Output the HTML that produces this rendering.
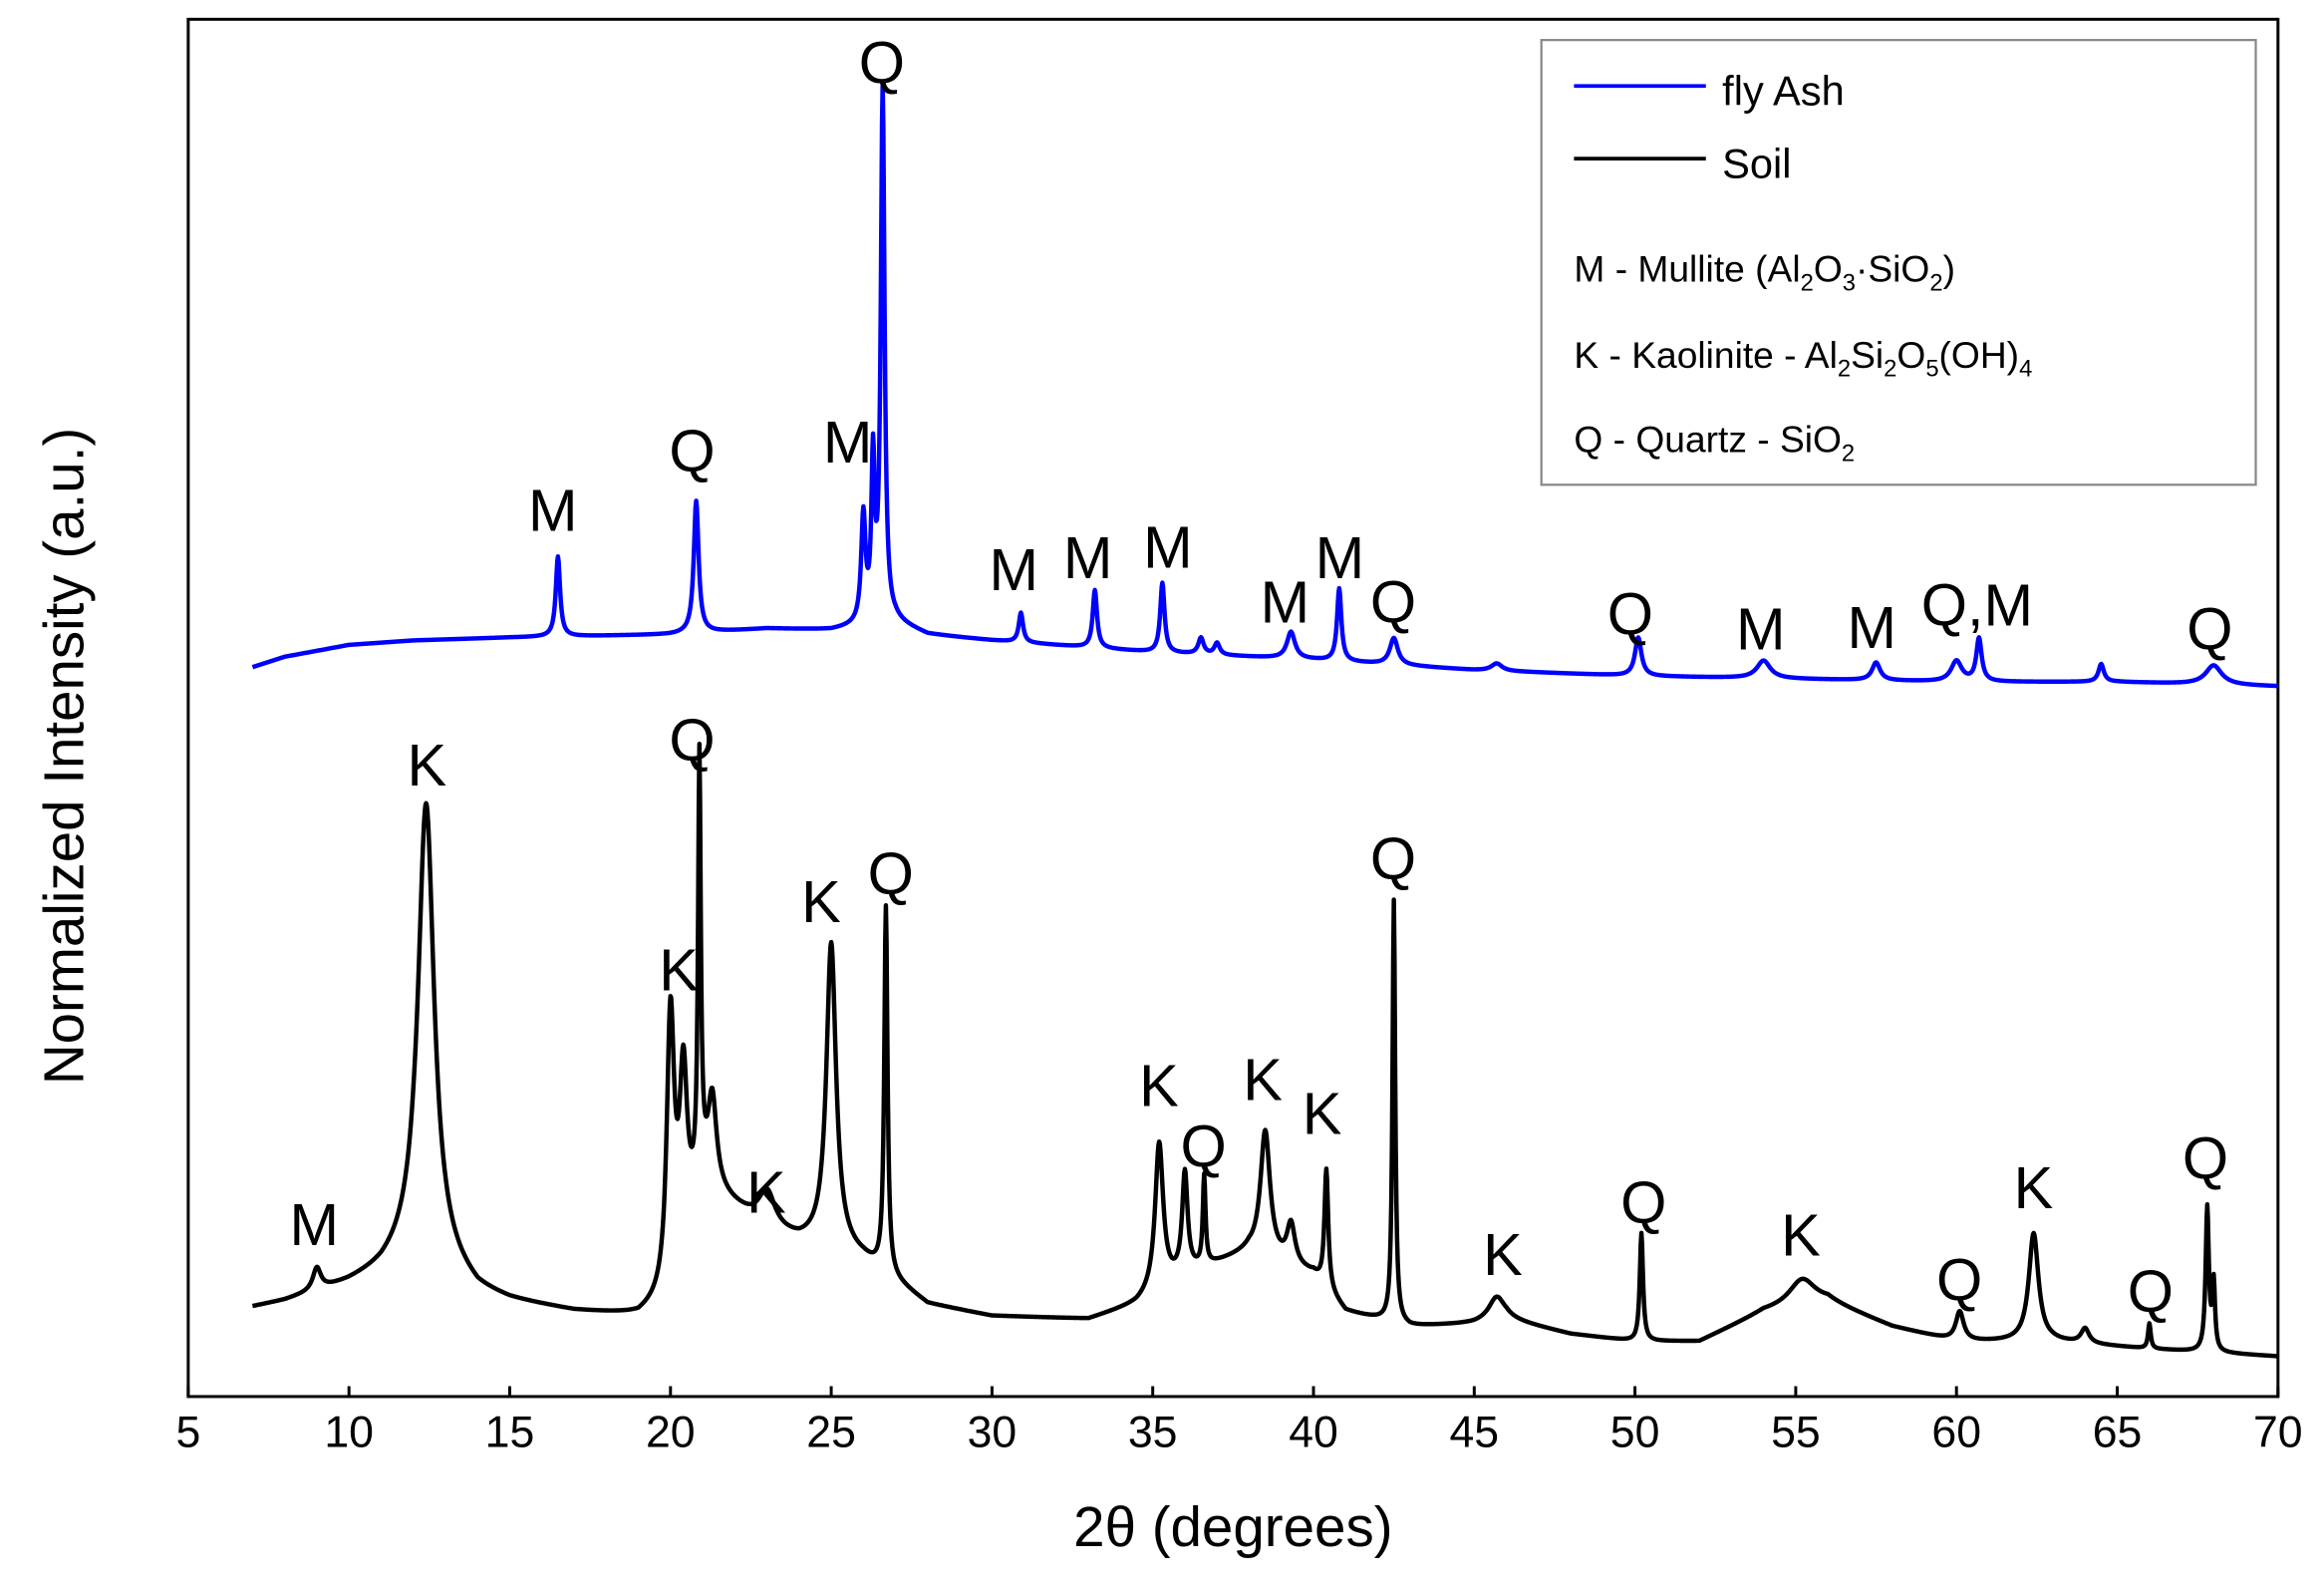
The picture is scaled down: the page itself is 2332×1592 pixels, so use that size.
<!DOCTYPE html>
<html><head><meta charset="utf-8"><style>
html,body{margin:0;padding:0;background:#fff;}
svg{display:block;font-family:"Liberation Sans",Arial,sans-serif;}
</style></head><body>
<svg id="chart" width="2332" height="1592" viewBox="0 0 2332 1592" xmlns="http://www.w3.org/2000/svg">
<g id="root" transform="scale(1.4872)">
<rect x="127" y="13" width="1410" height="929" fill="none" stroke="#000" stroke-width="2"/>
<g id="xticks"></g>
<text x="832" y="1043" font-size="38" text-anchor="middle">2θ (degrees)</text>
<text transform="translate(56,510) rotate(-90)" font-size="38" text-anchor="middle">Normalized Intensity (a.u.)</text>
<g id="series"></g>
<g id="labels"></g>
<g>
<rect x="1040" y="27" width="482" height="300" fill="#fff" stroke="#888" stroke-width="1.5"/>
<line x1="1062" y1="58" x2="1151" y2="58" stroke="#0000ff" stroke-width="2.5"/>
<text x="1162" y="71" font-size="28">fly Ash</text>
<line x1="1062" y1="107" x2="1151" y2="107" stroke="#000" stroke-width="2.5"/>
<text x="1162" y="120" font-size="28">Soil</text>
<text x="1062" y="190" font-size="25">M -  Mullite (Al<tspan font-size="16" dy="6">2</tspan><tspan dy="-6">O</tspan><tspan font-size="16" dy="6">3</tspan><tspan dy="-6">·SiO</tspan><tspan font-size="16" dy="6">2</tspan><tspan dy="-6">)</tspan></text>
<text x="1062" y="248" font-size="25">K -  Kaolinite - Al<tspan font-size="16" dy="6">2</tspan><tspan dy="-6">Si</tspan><tspan font-size="16" dy="6">2</tspan><tspan dy="-6">O</tspan><tspan font-size="16" dy="6">5</tspan><tspan dy="-6">(OH)</tspan><tspan font-size="16" dy="6">4</tspan></text>
<text x="1062" y="305" font-size="25">Q - Quartz - SiO<tspan font-size="16" dy="6">2</tspan></text>
</g>
</g>
</svg>
<script>
// x ticks
var xTicks = [5,10,15,20,25,30,35,40,45,50,55,60,65,70];
// fly ash baseline (2θ, intensity a.u.)
var flyBaseX = [7,8,10,12,15,20,23,25,27,28,30,35,40,45,50,55,60,65,70];
var flyBaseI = [492,499,507,510,512,514,518,517,522,514,510,502,497,490,486,484,482,482,479];
var flyPeakX = [16.5,20.8,26.0,26.3,26.6,30.9,33.2,35.3,36.5,37.0,39.3,40.8,42.5,45.7,50.1,54.0,57.5,60.0,60.7,64.5,68.0];
var flyPeakH = [54,89,72,106,359,20,39,47,11,8,18,49,18,5,26,12,12,14,29,12,13];
var flyPeakW = [0.08,0.09,0.08,0.06,0.07,0.08,0.08,0.08,0.1,0.1,0.15,0.08,0.15,0.2,0.12,0.25,0.15,0.2,0.1,0.1,0.3];
// soil baseline
var soilBaseX = [7,8,9,10,11,12,13,14,15,17,19,19.8,21,22,23,24,25,26,27,28,30,33,34.5,36,38,40,41,43,45,46,48,50,52,54,56,58,60,63,66,70];
var soilBaseI = [60,64,70,76,84,97,87,70,64,57,54,62,142,127,112,104,102,92,77,62,54,52,62,82,97,82,57,47,49,52,42,37,37,57,64,47,37,37,32,27];
var soilPeakX = [9.0,12.4,20.0,20.4,20.9,21.3,23.0,25.0,26.7,35.2,36.0,36.6,38.5,39.3,40.4,42.5,45.7,50.2,55.2,60.1,62.4,64.0,66.0,67.8,68.0];
var soilPeakH = [15,307,180,110,283,60,25,203,247,99,67,60,85,27,80,285,16,73,18,20,73,10,17,97,45];
var soilPeakW = [0.15,0.3,0.14,0.14,0.05,0.16,0.3,0.18,0.06,0.15,0.1,0.05,0.18,0.15,0.07,0.05,0.3,0.06,0.5,0.15,0.18,0.15,0.05,0.06,0.05];

var NS='http://www.w3.org/2000/svg';
function xs(v){return 127+(v-5)*(1410/65);}
function ys(v){return 942-v;}
function interp(xa,ya,x){
  if(x<=xa[0])return ya[0];
  for(var i=1;i<xa.length;i++){ if(x<=xa[i]){var t=(x-xa[i-1])/(xa[i]-xa[i-1]);return ya[i-1]+t*(ya[i]-ya[i-1]);} }
  return ya[ya.length-1];
}
function spec(bx,bi,px,ph,pw,x){
  var v=interp(bx,bi,x);
  for(var i=0;i<px.length;i++){var d=(x-px[i])/pw[i];v+=ph[i]/(1+d*d);}
  return v;
}
var g=document.getElementById('xticks');
xTicks.forEach(function(t){
  var l=document.createElementNS(NS,'line');
  
  
  l.setAttribute('x1',xs(t));l.setAttribute('x2',xs(t));l.setAttribute('y1',942);l.setAttribute('y2',935);
  l.setAttribute('stroke','#000');l.setAttribute('stroke-width','2');g.appendChild(l);
  var tx=document.createElementNS(NS,'text');
  
  
  tx.setAttribute('x',xs(t));tx.setAttribute('y',976);tx.setAttribute('font-size','30');tx.setAttribute('text-anchor','middle');
  tx.textContent=t;g.appendChild(tx);
});
function draw(name,color,bx,bi,px,ph,pw){
  var d='';
  for(var x=7;x<=70.0001;x+=0.02){d+=(d?'L':'M')+xs(x).toFixed(2)+','+ys(spec(bx,bi,px,ph,pw,x)).toFixed(2);}
  var p=document.createElementNS(NS,'path');
  
  
  p.setAttribute('d',d);p.setAttribute('fill','none');p.setAttribute('stroke',color);p.setAttribute('stroke-width','3');p.setAttribute('stroke-linejoin','round');
  document.getElementById('series').appendChild(p);
}
draw('soil-line','#000',soilBaseX,soilBaseI,soilPeakX,soilPeakH,soilPeakW);
draw('fly-ash-line','#0000ff',flyBaseX,flyBaseI,flyPeakX,flyPeakH,flyPeakW);
// peak annotation labels (display coords)
var labText=['M','Q','M','Q','M','M','M','M','M','Q','Q','M','M','Q,M','Q','M','K','Q','K','K','Q','K','K','Q','K','K','Q','K','Q','K','Q','K','Q','Q'];
var labX=[373,467,572,595,684,734,788,867,904,940,1100,1188,1263,1334,1491,212,288,467,458,554,601,517,782,812,852,892,940,1014,1109,1215,1322,1372,1451,1488];
var labY=[358,318,312,56,398,390,383,420,390,420,428,438,437,422,438,840,530,513,668,622,603,818,746,787,742,765,593,860,825,847,877,815,885,795];
var lg=document.getElementById('labels');
for(var i=0;i<labText.length;i++){
  var t=document.createElementNS(NS,'text');
  
  
  t.setAttribute('x',labX[i]);t.setAttribute('y',labY[i]);t.setAttribute('font-size','40');t.setAttribute('text-anchor','middle');
  t.textContent=labText[i];lg.appendChild(t);
}
</script>
</body></html>
